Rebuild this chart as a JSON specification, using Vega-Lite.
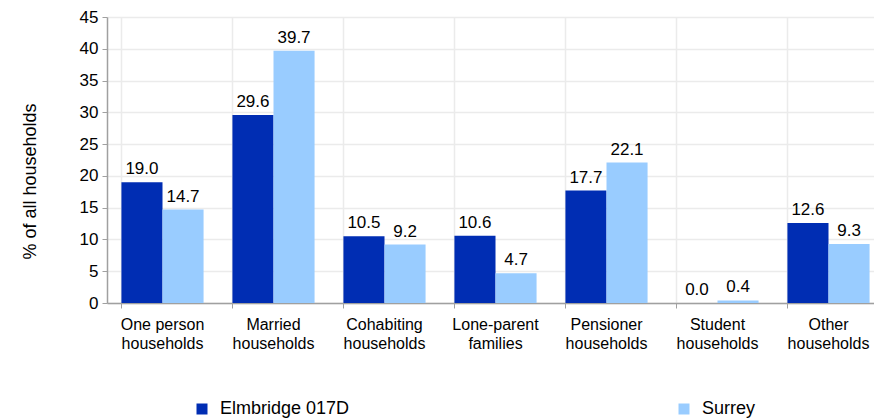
{
  "$schema": "https://vega.github.io/schema/vega-lite/v6.json",
  "autosize": "none",
  "width": 767,
  "height": 286,
  "padding": {"left": 107, "top": 17, "right": 0, "bottom": 116},
  "background": "white",
  "data": {
    "values": [
      {"category": "One person|households", "area": "Elmbridge 017D", "value": 19.0},
      {"category": "One person|households", "area": "Surrey", "value": 14.7},
      {"category": "Married|households", "area": "Elmbridge 017D", "value": 29.6},
      {"category": "Married|households", "area": "Surrey", "value": 39.7},
      {"category": "Cohabiting|households", "area": "Elmbridge 017D", "value": 10.5},
      {"category": "Cohabiting|households", "area": "Surrey", "value": 9.2},
      {"category": "Lone-parent|families", "area": "Elmbridge 017D", "value": 10.6},
      {"category": "Lone-parent|families", "area": "Surrey", "value": 4.7},
      {"category": "Pensioner|households", "area": "Elmbridge 017D", "value": 17.7},
      {"category": "Pensioner|households", "area": "Surrey", "value": 22.1},
      {"category": "Student|households", "area": "Elmbridge 017D", "value": 0.0},
      {"category": "Student|households", "area": "Surrey", "value": 0.4},
      {"category": "Other|households", "area": "Elmbridge 017D", "value": 12.6},
      {"category": "Other|households", "area": "Surrey", "value": 9.3}
    ]
  },
  "encoding": {
    "x": {
      "field": "category",
      "type": "nominal",
      "sort": null,
      "scale": {"range": [0, 777], "paddingInner": 0.26, "paddingOuter": 0.13},
      "axis": {
        "title": null,
        "labelAngle": 0,
        "labelExpr": "split(datum.label, '|')",
        "labelFontSize": 16,
        "labelLineHeight": 19,
        "labelPadding": 8,
        "labelBaseline": "top",
        "bandPosition": 0,
        "grid": true,
        "tickSize": 5,
        "labelColor": "#000000"
      }
    },
    "xOffset": {"field": "area", "type": "nominal", "sort": ["Elmbridge 017D", "Surrey"], "scale": {"paddingInner": 0, "paddingOuter": 0}},
    "y": {
      "field": "value",
      "type": "quantitative",
      "scale": {"domain": [0, 45], "nice": false},
      "axis": {
        "title": "% of all households",
        "titleFontSize": 18,
        "titleFontWeight": "normal",
        "titleAngle": 270,
        "titleAlign": "center",
        "titleBaseline": "middle",
        "titleX": -77,
        "titleY": 164,
        "values": [0, 5, 10, 15, 20, 25, 30, 35, 40, 45],
        "labelFontSize": 17,
        "tickSize": 5,
        "labelPadding": 4,
        "labelColor": "#000000"
      }
    }
  },
  "layer": [
    {
      "mark": {"type": "bar"},
      "encoding": {
        "color": {
          "field": "area",
          "type": "nominal",
          "sort": ["Elmbridge 017D", "Surrey"],
          "scale": {"domain": ["Elmbridge 017D", "Surrey"], "range": ["#002DB3", "#99CCFF"]},
          "legend": {
            "title": null,
            "orient": "none",
            "legendX": 86,
            "legendY": 383,
            "direction": "horizontal",
            "columns": 2,
            "columnPadding": 325,
            "symbolType": "square",
            "symbolSize": 121,
            "symbolStrokeWidth": 0,
            "symbolOpacity": 1,
            "labelFontSize": 18,
            "labelColor": "#000000",
            "labelOffset": 9,
            "labelLimit": 300
          }
        }
      }
    },
    {
      "mark": {"type": "text", "baseline": "alphabetic", "dy": -8, "fontSize": 17, "color": "#000000"},
      "encoding": {
        "text": {"field": "value", "type": "quantitative", "format": ".1f"}
      }
    }
  ],
  "config": {
    "font": "Liberation Sans",
    "view": {"stroke": null},
    "axis": {
      "domainColor": "#A0A0A0",
      "tickColor": "#A0A0A0",
      "gridColor": "#EBEBEB",
      "gridWidth": 1.5,
      "domainWidth": 1.5,
      "labelFont": "Liberation Sans",
      "titleFont": "Liberation Sans",
      "titleColor": "#000000"
    },
    "legend": {"labelFont": "Liberation Sans"}
  }
}
